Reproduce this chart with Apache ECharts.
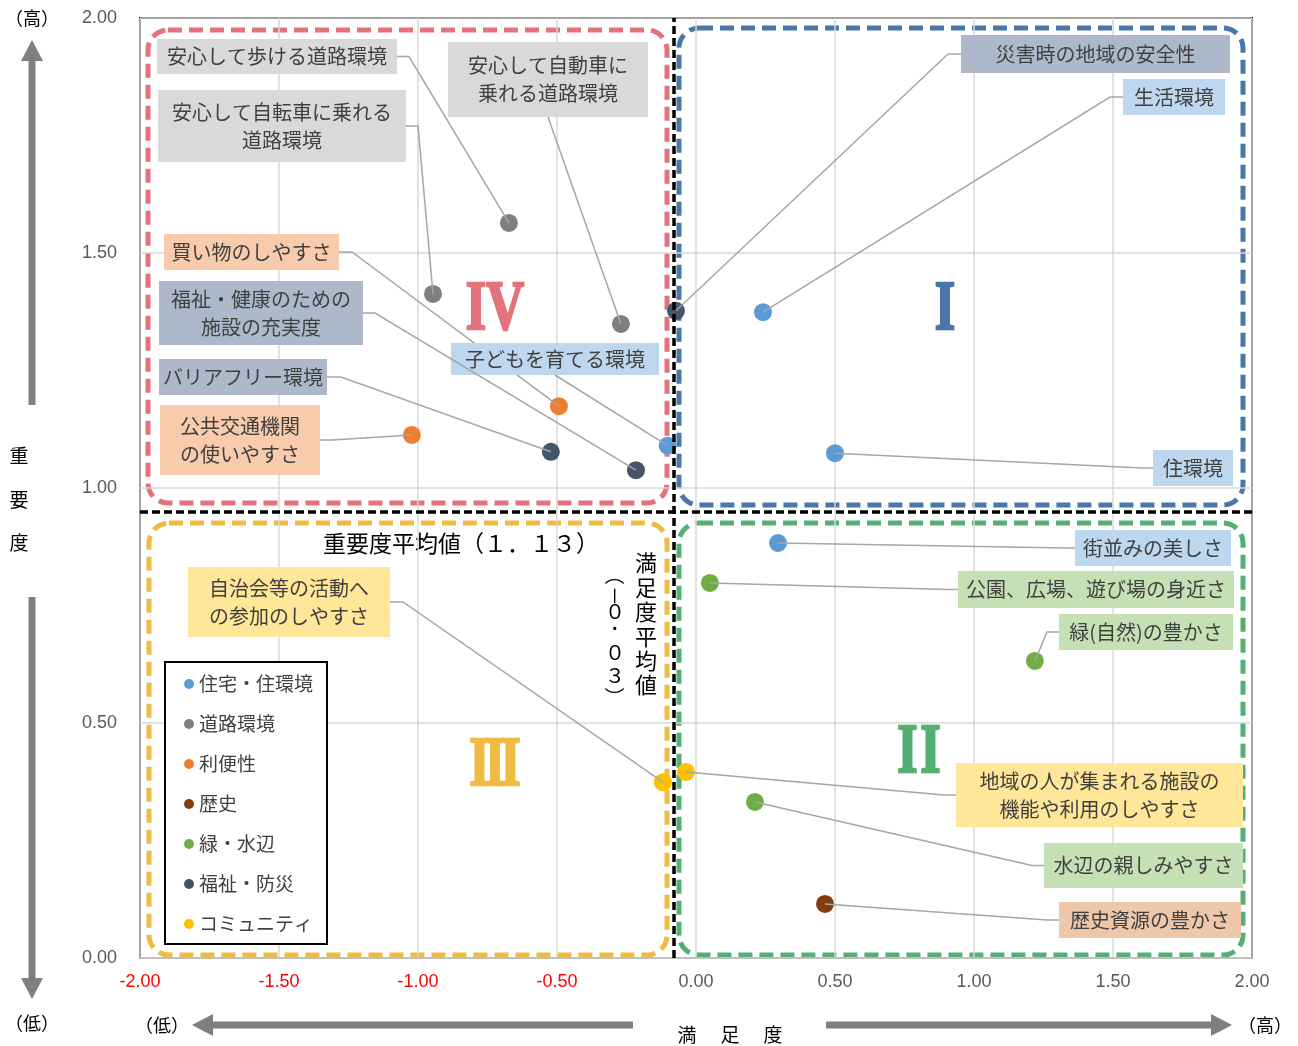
<!DOCTYPE html>
<html lang="ja">
<head>
<meta charset="utf-8">
<title>満足度・重要度</title>
<script src="https://cdn.jsdelivr.net/npm/echarts@6/dist/echarts.min.js"></script>
<style>
html, body { margin: 0; padding: 0; background: #fff; }
#chart { width: 1298px; height: 1046px; }
</style>
</head>
<body>
<div id="chart"></div>
<script>
// categories (legend)
var categories = ['住宅・住環境', '道路環境', '利便性', '歴史', '緑・水辺', '福祉・防災', 'コミュニティ'];

// items
var items = [
    '安心して歩ける道路環境', '安心して自転車に乗れる道路環境', '安心して自動車に乗れる道路環境',
    '災害時の地域の安全性', '生活環境', '買い物のしやすさ', '子どもを育てる環境',
    '福祉・健康のための施設の充実度', 'バリアフリー環境', '公共交通機関の使いやすさ',
    '住環境', '街並みの美しさ', '公園、広場、遊び場の身近さ', '緑(自然)の豊かさ',
    '地域の人が集まれる施設の機能や利用のしやすさ', '水辺の親しみやすさ', '歴史資源の豊かさ',
    '自治会等の活動への参加のしやすさ'
];
var itemCategory = [1, 1, 1, 5, 0, 2, 0, 5, 5, 2, 0, 0, 4, 4, 6, 4, 3, 6];
var satisfaction = [-0.673, -0.946, -0.270, -0.072, 0.241, -0.493, -0.102, -0.216, -0.522, -1.022,
    0.500, 0.295, 0.050, 1.219, -0.036, 0.212, 0.464, -0.119];
var importance = [1.564, 1.413, 1.349, 1.377, 1.374, 1.174, 1.090, 1.038, 1.077, 1.113,
    1.074, 0.883, 0.798, 0.632, 0.396, 0.332, 0.115, 0.374];
var labelText = [
    '安心して歩ける道路環境', '安心して自転車に乗れる\n道路環境', '安心して自動車に\n乗れる道路環境',
    '災害時の地域の安全性', '生活環境', '買い物のしやすさ', '子どもを育てる環境',
    '福祉・健康のための\n施設の充実度', 'バリアフリー環境', '公共交通機関\nの使いやすさ',
    '住環境', '街並みの美しさ', '公園、広場、遊び場の身近さ', '緑(自然)の豊かさ',
    '地域の人が集まれる施設の\n機能や利用のしやすさ', '水辺の親しみやすさ', '歴史資源の豊かさ',
    '自治会等の活動へ\nの参加のしやすさ'
];

// averages (text) and where the dashed lines sit
var avgLabelY = '重要度平均値（１．１３）';
var avgLabelX = ['満', '足', '度', '平', '均', '値'];
var avgLabelXValue = ['（', '－', '０', '．', '０', '３', '）'];
var avgLineX = -0.083;
var avgLineY = 0.953;

var xTicks = { min: -2, max: 2, interval: 0.5 };
var yTicks = { min: 0, max: 2, interval: 0.5 };

// styles
var colors = ['#5b9bd5', '#7f7f7f', '#ed7d31', '#843c0c', '#70ad47', '#44546a', '#ffc000'];
var labelBg = ['#bdd7ee', '#d9d9d9', '#f8cbad', '#eec6a9', '#c5e0b4', '#adb9ca', '#ffe699'];
var JP = '"Noto Sans CJK JP", "Noto Sans", sans-serif';
var SERIF = '"Liberation Serif", "DejaVu Serif", serif';

// label boxes: left, top, width, height, side, elbow x
var labelBox = [
    [157, 39, 240, 35, 'r', 409],
    [158, 90, 248, 72, 'r', 418],
    [448, 42, 200, 75, 'b', 0],
    [961, 35, 269, 38, 'l', 948],
    [1123, 79, 102, 36, 'l', 1110],
    [164, 234, 175, 36, 'r', 352],
    [451, 343, 208, 32, 'b', 0],
    [159, 281, 204, 64, 'r', 375],
    [159, 359, 168, 36, 'r', 341],
    [160, 405, 160, 70, 'r', 332],
    [1153, 450, 80, 36, 'l', 1142],
    [1075, 530, 156, 36, 'l', 1066],
    [958, 571, 276, 37, 'l', 948],
    [1059, 614, 174, 36, 'l', 1047],
    [956, 763, 287, 64, 'l', 944],
    [1044, 843, 199, 45, 'l', 1032],
    [1059, 902, 182, 36, 'l', 1047],
    [188, 567, 202, 70, 'r', 403]
];

var chart = echarts.init(document.getElementById('chart'));

var series = categories.map(function (c, ci) {
    var data = [];
    for (var i = 0; i < items.length; i++) {
        if (itemCategory[i] === ci) data.push({ name: items[i], value: [satisfaction[i], importance[i]] });
    }
    var s = {
        name: c,
        type: 'scatter',
        symbol: 'circle',
        symbolSize: 18,
        itemStyle: { color: colors[ci], opacity: 1 },
        emphasis: { disabled: true },
        z: 2,
        data: data
    };
    if (ci === 0) {
        s.markLine = {
            silent: true,
            symbol: 'none',
            label: { show: false },
            lineStyle: { color: '#000', width: 3.5, type: [8, 4] },
            data: [{ xAxis: avgLineX }, { yAxis: avgLineY }]
        };
    }
    return s;
});

series.push({
    name: 'labels',
    type: 'custom',
    clip: false,
    silent: true,
    z: 3,
    encode: { x: 0, y: 1 },
    data: items.map(function (n, i) { return [satisfaction[i], importance[i], i]; }),
    renderItem: function (params, api) {
        var i = api.value(2);
        var p = api.coord([api.value(0), api.value(1)]);
        var b = labelBox[i];
        var mid = b[1] + b[3] / 2;
        var pts;
        if (b[4] === 'r') pts = [p, [b[5], mid], [b[0] + b[2], mid]];
        else if (b[4] === 'l') pts = [p, [b[5], mid], [b[0], mid]];
        else pts = [p, [b[0] + b[2] / 2, b[1] + b[3]]];
        return {
            type: 'group',
            children: [
                { type: 'polyline', shape: { points: pts }, style: { stroke: '#a6a6a6', lineWidth: 1.5, fill: null } },
                { type: 'rect', shape: { x: b[0], y: b[1], width: b[2], height: b[3] }, style: { fill: labelBg[itemCategory[i]] } },
                { type: 'text', style: {
                    text: labelText[i], x: b[0] + b[2] / 2, y: mid,
                    align: 'center', verticalAlign: 'middle',
                    fontSize: 20, fontFamily: JP, lineHeight: 28, fill: '#404040'
                } }
            ]
        };
    }
});

function arrow(x1, y1, x2, y2) {
    var dx = x2 - x1, dy = y2 - y1, len = Math.sqrt(dx * dx + dy * dy);
    var ux = dx / len, uy = dy / len, nx = -uy, ny = ux;
    var hw = 11, hl = 21, sw = 3.5;
    var bx = x2 - ux * hl, by = y2 - uy * hl;
    return {
        type: 'polygon',
        shape: { points: [
            [x1 + nx * sw, y1 + ny * sw], [bx + nx * sw, by + ny * sw], [bx + nx * hw, by + ny * hw], [x2, y2],
            [bx - nx * hw, by - ny * hw], [bx - nx * sw, by - ny * sw], [x1 - nx * sw, y1 - ny * sw]
        ] },
        style: { fill: '#7f7f7f' }
    };
}

function txt(s, x, y, size, color, extra, props) {
    var st = { text: s, x: 0, y: 0, align: 'center', verticalAlign: 'middle', fontSize: size, fontFamily: JP, fill: color || '#000' };
    for (var k in extra) st[k] = extra[k];
    var el = { type: 'text', x: x, y: y, style: st };
    for (var m in props) el[m] = props[m];
    return el;
}

function qbox(x, y, w, h, color) {
    return { type: 'rect', shape: { x: x, y: y, width: w, height: h, r: 20 },
        style: { fill: 'none', stroke: color, lineWidth: 5, lineDash: [14, 7] } };
}

// roman numeral drawn from serif "I"/"V" glyphs, squeezed
function numeral(s, cx, cy, color, step) {
    var out = [];
    var bold = { fontWeight: 'bold', fontFamily: SERIF, stroke: color, lineWidth: 2.5 };
    if (s === 'IV') {
        out.push(txt('IV', cx, cy, 70, color, bold, { scaleX: 0.75 }));
    } else {
        var n = s.length;
        for (var k = 0; k < n; k++) {
            out.push(txt('I', cx + (k - (n - 1) / 2) * step, cy, 70, color, bold, { scaleX: 0.75 }));
        }
    }
    return out;
}

var graphics = [
    qbox(148, 30, 519, 473, '#e3727a'),
    qbox(679, 28, 564, 477, '#4a76aa'),
    qbox(149, 523, 518, 432, '#f0bb43'),
    qbox(679, 523, 564, 432, '#54b072')
];
graphics = graphics.concat(
    numeral('IV', 495, 311, '#e3727a'),
    numeral('I', 945, 311, '#4a76aa', 0),
    numeral('III', 495, 767, '#f0bb43', 15.5),
    numeral('II', 919, 754, '#54b072', 23)
);
graphics = graphics.concat([
    txt(avgLabelY, 461, 543, 23, '#000'),
    // left axis title
    txt('（高）', 32, 18, 18, '#000'),
    arrow(32, 405, 32, 40),
    txt('重', 19, 456, 19, '#000'),
    txt('要', 19, 500, 19, '#000'),
    txt('度', 19, 543, 19, '#000'),
    arrow(32, 597, 32, 999),
    txt('（低）', 32, 1023, 18, '#000'),
    // bottom axis title
    txt('（低）', 162, 1025, 18, '#000'),
    arrow(633, 1025, 192, 1025),
    txt('満', 687, 1035, 19, '#000'),
    txt('足', 730, 1035, 19, '#000'),
    txt('度', 773, 1035, 19, '#000'),
    arrow(826, 1025, 1232, 1025),
    txt('（高）', 1265, 1025, 18, '#000')
]);
var rightY = [563, 588, 612, 637, 661, 685];
avgLabelX.forEach(function (c, k) { graphics.push(txt(c, 646, rightY[k], 22, '#000')); });
// vertical writing: brackets and dash turn a quarter, digits stay upright
var leftY = [575, 596, 611, 628, 652, 675, 697];
avgLabelXValue.forEach(function (c, k) {
    var turn = (c === '（' || c === '－' || c === '）');
    var dx = c === '．' ? 5 : 0, dy = c === '．' ? -6 : 0;
    graphics.push(txt(c, 615 + dx, leftY[k] + dy, 20, '#000', {}, turn ? { rotation: -Math.PI / 2 } : {}));
});

chart.setOption({
    animation: false,
    textStyle: { fontFamily: JP },
    grid: {
        left: 140, right: 46, top: 18, bottom: 88,
        show: true, borderColor: '#000', borderWidth: 2,
        containLabel: false, outerBoundsMode: 'none'
    },
    legend: {
        data: categories,
        orient: 'vertical',
        left: 165, top: 662,
        padding: [12, 14, 10, 19],
        itemGap: 20,
        itemWidth: 10, itemHeight: 10,
        icon: 'circle',
        backgroundColor: '#fff',
        borderColor: '#000', borderWidth: 2,
        selectedMode: false,
        textStyle: { fontSize: 19, lineHeight: 20, color: '#404040', fontFamily: JP }
    },
    xAxis: {
        type: 'value', min: xTicks.min, max: xTicks.max, interval: xTicks.interval,
        axisLine: { show: true, onZero: false, lineStyle: { color: '#bfbfbf', width: 2 } },
        axisTick: { show: false },
        splitLine: { show: true, lineStyle: { color: '#d9d9d9', width: 1.5 } },
        axisLabel: {
            margin: 15, fontSize: 18, fontFamily: '"Liberation Sans", Arial, sans-serif',
            formatter: function (v) { return v.toFixed(2); },
            color: function (v) { return Number(v) < 0 ? '#ff0000' : '#595959'; }
        }
    },
    yAxis: {
        type: 'value', min: yTicks.min, max: yTicks.max, interval: yTicks.interval,
        axisLine: { show: false },
        axisTick: { show: false },
        splitLine: { show: true, lineStyle: { color: '#d9d9d9', width: 1.5 } },
        axisLabel: {
            margin: 23, fontSize: 18, color: '#595959', fontFamily: '"Liberation Sans", Arial, sans-serif',
            formatter: function (v) { return v.toFixed(2); }
        }
    },
    graphic: { elements: graphics },
    series: series
});
window.onresize = chart.resize;
</script>
</body>
</html>
